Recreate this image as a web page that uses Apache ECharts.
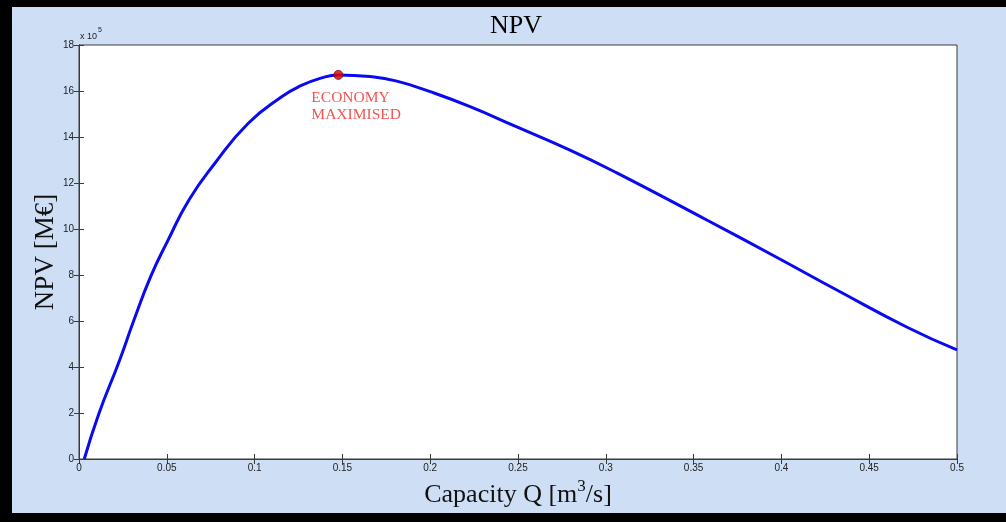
<!DOCTYPE html>
<html>
<head>
<meta charset="utf-8">
<script src="https://cdn.jsdelivr.net/npm/echarts@6/dist/echarts.min.js"></script>
<style>
html,body{margin:0;padding:0;}
#c{width:1006px;height:522px;}
</style>
</head>
<body>
<div id="c"></div>
<script>
// Capacity Q [m3/s]
const capacity = [0.003, 0.0114, 0.0228, 0.0313, 0.0408, 0.0503, 0.0626, 0.0774, 0.0964, 0.1154, 0.126, 0.1377, 0.1477, 0.1657, 0.181, 0.200, 0.2227, 0.249, 0.2796, 0.306, 0.3575, 0.3954, 0.4334, 0.4713, 0.500];
// NPV (x 10^5)
const npv = [0, 1.99, 4.23, 6.04, 7.93, 9.45, 11.26, 12.86, 14.6, 15.75, 16.22, 16.56, 16.7, 16.63, 16.43, 15.97, 15.32, 14.45, 13.43, 12.45, 10.39, 8.85, 7.27, 5.74, 4.74];
const optimum = [0.1477, 16.7];
const optimumLabel = 'ECONOMY\nMAXIMISED';

const chart = echarts.init(document.getElementById('c'), null, {renderer: 'canvas'});
const axisCol = '#3a3a3a';
const tickStyle = {show: true, inside: true, length: 5, lineStyle: {color: axisCol, width: 1}};
const serif = '"Liberation Serif", "DejaVu Serif", serif';
const sans = '"Liberation Sans", Arial, sans-serif';

chart.setOption({
  backgroundColor: '#cedff5',
  animation: false,
  title: {
    text: 'NPV', left: 511, top: 8, textAlign: 'center',
    textStyle: {fontFamily: serif, fontSize: 26, fontWeight: 'normal', color: '#000'}
  },
  grid: {left: 79, top: 45, right: 49, bottom: 63, show: true, backgroundColor: '#fff', borderColor: axisCol, borderWidth: 1},
  xAxis: [{
    type: 'value', min: 0, max: 0.5, interval: 0.05,
    axisLine: {show: true, lineStyle: {color: axisCol}},
    axisTick: tickStyle,
    splitLine: {show: false},
    axisLabel: {fontFamily: sans, fontSize: 10, color: '#222', margin: 4},
    name: '{a|Capacity Q [m}{s|3}{a|/s]}',
    nameLocation: 'middle', nameGap: 19,
    nameTextStyle: {
      rich: {
        a: {fontFamily: serif, fontSize: 26, color: '#111', verticalAlign: 'bottom', lineHeight: 30},
        s: {fontFamily: serif, fontSize: 17, color: '#111', verticalAlign: 'top', lineHeight: 30, padding: [0, 0, 10, 0]}
      }
    }
  }, {
    type: 'value', min: 0, max: 0.5, interval: 0.05, position: 'top',
    axisLine: {show: true, lineStyle: {color: axisCol}},
    axisTick: tickStyle, axisLabel: {show: false}, splitLine: {show: false}
  }],
  yAxis: [{
    type: 'value', min: 0, max: 18, interval: 2,
    axisLine: {show: true, lineStyle: {color: axisCol}},
    axisTick: tickStyle,
    splitLine: {show: false},
    axisLabel: {fontFamily: sans, fontSize: 10, color: '#222', margin: 5},
    name: 'NPV [M€]', nameLocation: 'middle', nameGap: 20, nameRotate: 90, nameMoveOverlap: false,
    nameTextStyle: {fontFamily: serif, fontSize: 27, color: '#111'}
  }, {
    type: 'value', min: 0, max: 18, interval: 2, position: 'right',
    axisLine: {show: true, lineStyle: {color: axisCol}},
    axisTick: tickStyle, axisLabel: {show: false}, splitLine: {show: false}
  }],
  graphic: [
    {type: 'rect', left: 0, top: 0, shape: {width: 12, height: 522}, style: {fill: '#000'}, z: 100},
    {type: 'rect', left: 0, top: 0, shape: {width: 1006, height: 7}, style: {fill: '#000'}, z: 100},
    {type: 'rect', left: 0, top: 513, shape: {width: 1006, height: 9}, style: {fill: '#000'}, z: 100},
    {type: 'text', left: 80, top: 27, style: {
      text: '{a|x 10}{s|5}', rich: {
        a: {fontFamily: sans, fontSize: 9, fill: '#222', verticalAlign: 'bottom', lineHeight: 14},
        s: {fontFamily: sans, fontSize: 7, fill: '#222', verticalAlign: 'top', lineHeight: 14, padding: [0, 0, 6, 1]}
      }
    }}
  ],
  series: [{
    type: 'line', xAxisIndex: 0, yAxisIndex: 0,
    data: capacity.map((q, i) => [q, npv[i]]),
    smooth: 0.5, showSymbol: false,
    lineStyle: {color: '#0a0af0', width: 3}
  }, {
    type: 'scatter', xAxisIndex: 0, yAxisIndex: 0,
    data: [optimum], symbolSize: 9,
    itemStyle: {color: '#e00000', borderColor: '#8a0000', borderWidth: 1},
    label: {
      show: true, formatter: optimumLabel, position: [-22, 20], align: 'left', verticalAlign: 'top',
      fontFamily: serif, fontSize: 15.5, color: '#f02828', lineHeight: 17
    },
    z: 5
  }]
});
</script>
</body>
</html>
